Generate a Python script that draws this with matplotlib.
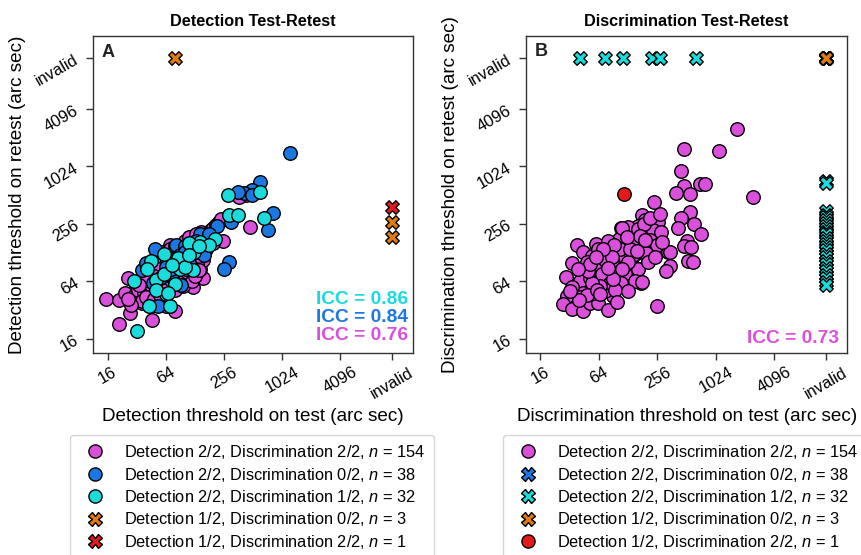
import numpy as np
import matplotlib
matplotlib.use('Agg')
import matplotlib.pyplot as plt
from matplotlib.lines import Line2D
from matplotlib.ticker import NullLocator

plt.rcParams['font.family'] = ['Liberation Sans', 'DejaVu Sans']
plt.rcParams['mathtext.fontset'] = 'custom'
plt.rcParams['mathtext.rm'] = 'Liberation Sans'
plt.rcParams['mathtext.it'] = 'Liberation Sans:italic'

# ---------------- data ----------------
INVALID = 14000
tick_values = [16, 64, 256, 1024, 4096, INVALID]
tick_labels = ['16', '64', '256', '1024', '4096', 'invalid']

# Panel A: detection test / retest (arc sec)
detA_mag_test = [15.5, 21, 21, 27, 46, 80, 26, 28, 36, 481, 122, 154, 64, 40, 51, 79, 104, 143, 148, 188,
                 249, 89, 70, 55, 37, 34, 24, 32, 45, 60, 96, 112, 154, 196, 122, 82, 43, 434, 370,
                 30, 33, 38, 42, 46, 50, 55, 58, 62, 66, 70, 74, 78, 84, 88, 92, 98, 104, 110, 116,
                 124, 130, 138, 146, 152, 160, 170, 182, 196, 210, 225, 240, 36, 40, 44, 48, 52, 56,
                 60, 64, 68, 72, 76, 80, 86, 90, 96, 100, 106, 112, 118, 126, 134, 142, 150, 158, 166,
                 176, 186, 120, 128, 140, 96, 84, 72, 64, 56, 48, 40, 34, 28, 26, 100, 112, 130, 60, 70, 80]
detA_mag_retest = [42, 41, 23, 30, 25, 31, 70, 47, 38, 239, 55, 70, 35, 52, 45, 52, 73, 85, 209, 223,
                   168, 149, 155, 100, 62, 47, 48, 41, 35, 38, 57, 100, 108, 162, 162, 100, 79, 519, 494,
                   45, 52, 48, 58, 55, 62, 66, 58, 72, 80, 76, 88, 95, 90, 104, 110, 118, 96, 128, 120,
                   138, 150, 132, 170, 180, 190, 200, 214, 232, 250, 270, 290, 40, 44, 36, 42, 50, 46,
                   54, 50, 60, 66, 70, 64, 74, 82, 86, 74, 80, 92, 100, 110, 96, 118, 126, 140, 150,
                   160, 176, 64, 72, 84, 140, 120, 110, 96, 86, 72, 66, 58, 36, 42, 170, 186, 200, 130, 140, 150]

detA_blue_test = [1243, 609, 498, 416, 360, 498, 815, 729, 302, 217, 286, 256, 49, 36, 82, 143, 104, 76, 92,
                  53, 70, 122, 40, 60, 168, 100, 47, 73, 90, 110, 130, 150, 65, 120, 180, 56, 100, 160]
detA_blue_retest = [1418, 704, 584, 541, 553, 508, 329, 218, 267, 242, 101, 87, 138, 84, 152, 198, 85, 79, 59,
                    35, 100, 127, 100, 73, 138, 149, 62, 85, 120, 100, 170, 140, 90, 150, 200, 70, 130, 120]

detA_cyan_test = [284, 609, 292, 355, 666, 207, 146, 124, 122, 94, 76, 61, 45, 41, 30, 51, 62, 80, 65, 43,
                  71, 32, 51, 89, 112, 85, 181, 67, 100, 140, 75, 110]
detA_cyan_retest = [508, 549, 315, 315, 296, 178, 165, 129, 84, 108, 108, 125, 104, 86, 64, 66, 77, 60, 47, 35,
                    35, 19, 52, 85, 162, 113, 155, 48, 90, 150, 95, 120]

detA_orange_test = [80, INVALID, INVALID]
detA_orange_retest = [INVALID, 269, 185]
detA_red_test = [INVALID]
detA_red_retest = [383]

# Panel B: discrimination test / retest (arc sec)
disB_mag_test = [1675, 478, 1112, 443, 484, 709, 787, 402, 553, 2452, 239, 560, 449, 176, 189, 258, 163, 231,
                 419, 617, 724, 108, 129, 145, 117, 217, 254, 519, 478, 568, 329, 345, 191, 347, 317, 526,
                 596, 38, 44, 54, 60, 63, 83, 80, 34, 29, 37, 41, 30, 27, 34, 44, 52, 63, 80, 89, 254, 106,
                 122, 148, 174, 163, 134, 115, 145, 119, 102, 52, 63, 74, 58, 71, 94, 80, 44, 56, 74,
                 110, 161, 185, 195, 142, 106, 87, 74, 58, 69, 102, 119, 163, 149, 177, 108, 83, 66, 54,
                 42, 48, 61, 79, 92, 170, 280, 288, 206, 244, 128, 87, 48, 49, 34, 40, 94, 128, 98, 66,
                 52, 71, 134, 191, 217, 274, 125, 159, 111, 89, 39, 32, 80, 60]
disB_mag_retest = [2540, 1563, 1489, 910, 643, 676, 676, 541, 526, 491, 431, 338, 296, 320, 280, 269, 242, 220,
                   229, 256, 202, 229, 236, 168, 178, 172, 155, 168, 149, 147, 129, 129, 124, 92, 82, 104,
                   101, 152, 131, 117, 158, 140, 129, 105, 100, 71, 57, 64, 45, 37, 33, 31, 38, 38, 32, 45,
                   35, 61, 76, 66, 62, 86, 92, 117, 117, 149, 178, 70, 58, 73, 89, 92, 89, 67, 48, 48, 51,
                   232, 228, 258, 127, 122, 140, 100, 106, 85, 76, 79, 76, 85, 65, 63, 62, 62, 57, 62,
                   44, 46, 52, 168, 152, 193, 212, 167, 103, 114, 103, 114, 103, 81, 55, 41, 52, 50, 39, 47,
                   96, 138, 138, 175, 298, 322, 185, 132, 85, 67, 85, 50, 89, 114]

disB_blue_test = [INVALID] * 38
disB_blue_retest = [INVALID] * 38

disB_cyan_test = [41, 73.5, 113, 223, 274, 643] + [INVALID] * 26
disB_cyan_retest = [INVALID] * 6 + [714, 680, 345, 320, 300, 280, 262, 245, 228, 212, 198, 184, 170, 158,
                                    146, 135, 124, 114, 105, 97, 89, 82, 75, 69, 63, 58]

disB_orange_test = [INVALID] * 3
disB_orange_retest = [INVALID] * 3
disB_red_test = [116]
disB_red_retest = [526]

labels = ['Detection 2/2, Discrimination 2/2, $n$ = 154',
          'Detection 2/2, Discrimination 0/2, $n$ = 38',
          'Detection 2/2, Discrimination 1/2, $n$ = 32',
          'Detection 1/2, Discrimination 0/2, $n$ = 3',
          'Detection 1/2, Discrimination 2/2, $n$ = 1']

MAG = '#DA50DA'
BLUE = '#1B78E0'
CYAN = '#1ADCDC'
ORANGE = '#E07A12'
RED = '#E31A1C'

# ---------------- figure ----------------
fig = plt.figure(figsize=(8.62, 5.55), dpi=100)
axA = fig.add_axes([0.108, 0.364, 0.371, 0.571])
axB = fig.add_axes([0.610, 0.364, 0.373, 0.571])

S = 95


def style(ax):
    ax.set_xscale('log', base=2)
    ax.set_yscale('log', base=2)
    ax.set_xlim(11.3, 23170)
    ax.set_ylim(11.3, 23900)
    ax.set_xticks(tick_values)
    ax.set_xticklabels(tick_labels, rotation=30, fontsize=11.8)
    ax.set_yticks(tick_values)
    ax.set_yticklabels(tick_labels, rotation=30, fontsize=11.8)
    ax.xaxis.set_minor_locator(NullLocator())
    ax.yaxis.set_minor_locator(NullLocator())
    ax.tick_params(length=5, width=1, color='#333333')
    for sp in ax.spines.values():
        sp.set_color('#333333')
        sp.set_linewidth(1)


def circ(ax, x, y, c, z):
    ax.scatter(x, y, s=S, c=c, edgecolors='black', linewidths=1, marker='o', zorder=z)


def cross(ax, x, y, c, z):
    ax.scatter(x, y, s=S, c=c, edgecolors='black', linewidths=1, marker='X', zorder=z)


style(axA)
circ(axA, detA_mag_test, detA_mag_retest, MAG, 2)
circ(axA, detA_blue_test, detA_blue_retest, BLUE, 3)
circ(axA, detA_cyan_test, detA_cyan_retest, CYAN, 4)
cross(axA, detA_orange_test, detA_orange_retest, ORANGE, 5)
cross(axA, detA_red_test, detA_red_retest, RED, 6)

style(axB)
circ(axB, disB_mag_test, disB_mag_retest, MAG, 2)
cross(axB, disB_blue_test, disB_blue_retest, BLUE, 3)
cross(axB, disB_cyan_test, disB_cyan_retest, CYAN, 4)
cross(axB, disB_orange_test, disB_orange_retest, ORANGE, 5)
circ(axB, disB_red_test, disB_red_retest, RED, 6)

axA.set_title('Detection Test-Retest', fontsize=11.7, fontweight='bold', pad=7)
axB.set_title('Discrimination Test-Retest', fontsize=11.7, fontweight='bold', pad=7)
axA.set_xlabel('Detection threshold on test (arc sec)', fontsize=13.6, labelpad=5)
axA.set_ylabel('Detection threshold on retest (arc sec)', fontsize=13.6, labelpad=5)
axB.set_xlabel('Discrimination threshold on test (arc sec)', fontsize=13.6, labelpad=5)
axB.set_ylabel('Discrimination threshold on retest (arc sec)', fontsize=13.6, labelpad=5)

axA.text(0.048, 0.948, 'A', transform=axA.transAxes, fontsize=13, fontweight='bold',
         ha='center', va='center', color='#222222')
axB.text(0.048, 0.950, 'B', transform=axB.transAxes, fontsize=13, fontweight='bold',
         ha='center', va='center', color='#222222')

icc_kw = dict(fontsize=13.8, fontweight='bold', ha='right', va='center')
axA.text(0.984, 0.170, 'ICC = 0.86', color=CYAN, transform=axA.transAxes, **icc_kw)
axA.text(0.984, 0.112, 'ICC = 0.84', color=BLUE, transform=axA.transAxes, **icc_kw)
axA.text(0.984, 0.054, 'ICC = 0.76', color=MAG, transform=axA.transAxes, **icc_kw)
axB.text(0.974, 0.047, 'ICC = 0.73', color=MAG, transform=axB.transAxes, **icc_kw)


def h(marker, color):
    return Line2D([], [], linestyle='', marker=marker, markersize=9.5, markerfacecolor=color,
                  markeredgecolor='black', markeredgewidth=1)


handlesA = [h('o', MAG), h('o', BLUE), h('o', CYAN), h('X', ORANGE), h('X', RED)]
handlesB = [h('o', MAG), h('X', BLUE), h('X', CYAN), h('X', ORANGE), h('o', RED)]

leg_kw = dict(loc='upper left', bbox_transform=fig.transFigure, fontsize=11.8, frameon=True,
              labelspacing=0.27, handletextpad=0.8, handlelength=2.0, borderpad=0.5)
legA = fig.legend(handlesA, labels, bbox_to_anchor=(0.072, 0.231), **leg_kw)
legB = fig.legend(handlesB, labels, bbox_to_anchor=(0.574, 0.231), **leg_kw)

fig.savefig('out.png', dpi=100)
